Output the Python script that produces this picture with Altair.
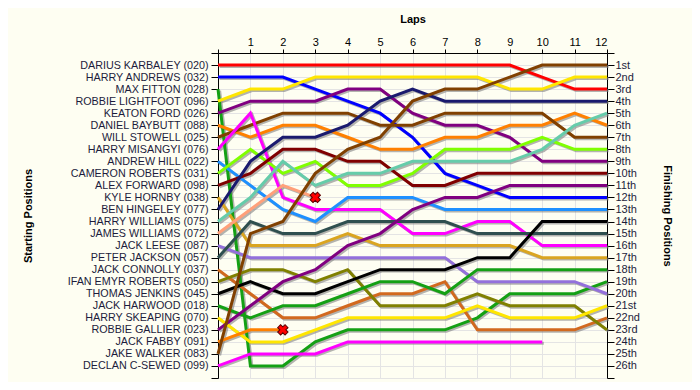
import altair as alt
import pandas as pd

laps = list(range(13))

drivers = [
    "DARIUS KARBALEY (020)", "HARRY ANDREWS (032)", "MAX FITTON (028)",
    "ROBBIE LIGHTFOOT (096)", "KEATON FORD (026)", "DANIEL BAYBUTT (088)",
    "WILL STOWELL (025)", "HARRY MISANGYI (076)", "ANDREW HILL (022)",
    "CAMERON ROBERTS (031)", "ALEX FORWARD (098)", "KYLE HORNBY (038)",
    "BEN HINGELEY (077)", "HARRY WILLIAMS (075)", "JAMES WILLIAMS (072)",
    "JACK LEESE (087)", "PETER JACKSON (057)", "JACK CONNOLLY (037)",
    "IFAN EMYR ROBERTS (050)", "THOMAS JENKINS (045)", "JACK HARWOOD (018)",
    "HARRY SKEAPING (070)", "ROBBIE GALLIER (023)", "JACK FABBY (091)",
    "JAKE WALKER (083)", "DECLAN C-SEWED (099)",
]

colors = [
    "#ff0000", "#0000ff", "#14a014", "#ffe600", "#800080", "#ff8000",
    "#804000", "#ff00ff", "#1e90ff", "#80ff00", "#800000", "#daa520",
    "#1a1a6e", "#66ccaa", "#ffa07a", "#9370db", "#2f4f4f", "#d2691e",
    "#808000", "#000000", "#14a014", "#ffe600", "#800080", "#ff8000",
    "#804000", "#ff00ff",
]

finish_labels = [
    "1st", "2nd", "3rd", "4th", "5th", "6th", "7th", "8th", "9th", "10th",
    "11th", "12th", "13th", "14th", "15th", "16th", "17th", "18th", "19th",
    "20th", "21st", "22nd", "23rd", "24th", "25th", "26th",
]

# position of each driver after each lap (lap 0 = grid)
p020 = [1, 1, 1, 1, 1, 1, 1, 1, 1, 1, 2, 3, 3]
p032 = [2, 2, 2, 3, 4, 5, 7, 10, 11, 12, 12, 12, 12]
p028 = [3, 26, 26, 24, 23, 23, 23, 23, 22, 20, 20, 20, 19]
p096 = [4, 3, 3, 2, 2, 2, 2, 2, 2, 3, 3, 2, 2]
p026 = [5, 4, 4, 4, 3, 3, 5, 6, 6, 7, 9, 9, 9]
p088 = [6, 7, 6, 6, 7, 8, 8, 7, 7, 6, 6, 5, 6]
p025 = [7, 6, 5, 5, 5, 6, 6, 5, 5, 5, 5, 7, 7]
p076 = [8, 5, 12, 13, 13, 13, 15, 15, 14, 14, 16, 16, 16]
p022 = [9, 11, 13, 14, 12, 12, 12, 13, 13, 13, 13, 13, 13]
p031 = [10, 8, 10, 9, 11, 11, 10, 8, 8, 8, 7, 8, 8]
p098 = [11, 10, 8, 8, 9, 9, 11, 11, 10, 10, 10, 10, 10]
p038 = [12, 16, 16, 16, 15, 16, 16, 16, 16, 16, 17, 17, 17]
p077 = [13, 9, 7, 7, 6, 4, 3, 4, 4, 4, 4, 4, 4]
p075 = [14, 12, 9, 11, 10, 10, 9, 9, 9, 9, 8, 6, 5]
p072 = [15, 13, 11, 12]
p087 = [16, 17, 17, 17, 17, 17, 17, 17, 19, 19, 19, 19, 20]
p057 = [17, 14, 15, 15, 14, 14, 14, 14, 15, 15, 15, 15, 15]
p037 = [18, 20, 22, 22, 21, 20, 20, 19, 23, 23, 23, 23, 22]
p050 = [19, 18, 18, 19, 18, 21, 21, 21, 20, 21, 21, 21, 23]
p045 = [20, 19, 20, 20, 19, 18, 18, 18, 17, 17, 14, 14, 14]
p018 = [21, 22, 21, 21, 20, 19, 19, 20, 18, 18, 18, 18, 18]
p070 = [22, 24, 24, 23, 22, 22, 22, 22, 21, 22, 22, 22, 21]
p023 = [23, 21, 19, 18, 16, 15, 13, 12, 12, 11, 11, 11, 11]
p091 = [24, 23, 23]
p083 = [25, 15, 14, 10, 8, 7, 4, 3, 3, 2, 1, 1, 1]
p099 = [26, 25, 25, 25, 24, 24, 24, 24, 24, 24, 24]

series = [p020, p032, p028, p096, p026, p088, p025, p076, p022, p031, p098,
          p038, p077, p075, p072, p087, p057, p037, p050, p045, p018, p070,
          p023, p091, p083, p099]

retired = ["JAMES WILLIAMS (072)", "JACK FABBY (091)"]

rows = []
for order, (name, ps) in enumerate(zip(drivers, series)):
    for lap, pos in zip(laps, ps):
        rows.append({"driver": name, "lap": lap, "pos": pos, "order": order})
df = pd.DataFrame(rows)

last = df.sort_values("lap").groupby("driver").tail(1)
marks_df = last[last["driver"].isin(retired)]

FONT = "Liberation Sans"
left_expr = "[''," + ",".join("'%s'" % d for d in drivers) + "][datum.value] || ''"
right_expr = "[''," + ",".join("'%s'" % f for f in finish_labels) + "][datum.value] || ''"

xscale = alt.Scale(domain=[0, 12], nice=False, zero=False)
yscale = alt.Scale(domain=[0, 27], nice=False, zero=False, reverse=True)
color = alt.Color("driver:N", scale=alt.Scale(domain=drivers, range=colors), legend=None)
yvals = list(range(0, 28))

x_axis = alt.Axis(
    orient="top", values=laps, grid=True, gridColor="#e4e4e4",
    labelExpr="datum.value == 0 ? '' : datum.value",
    tickSize=4, labelPadding=2, labelFontSize=11, labelFont=FONT,
    labelColor="#000000", domainColor="#000000", tickColor="#000000",
    title="Laps", titleX=194.5, titleY=-34, titleAlign="center",
    titleBaseline="middle", titleFontSize=11, titleFont=FONT,
    titleFontWeight="bold", titleColor="#000000")

base = alt.Chart(df)

shadow = base.transform_calculate(
    lx="datum.lap + 0.05", py="datum.pos + 0.12"
).mark_line(strokeWidth=3, color="#808080", opacity=0.6).encode(
    x=alt.X("lx:Q", scale=xscale, axis=x_axis),
    y=alt.Y("py:Q", scale=yscale, axis=None),
    detail="driver:N",
    order="lap:Q",
)

lines = base.mark_line(strokeWidth=3).encode(
    x=alt.X("lap:Q", scale=xscale, axis=x_axis),
    y=alt.Y("pos:Q", scale=yscale, axis=alt.Axis(
        orient="left", values=yvals, grid=True, gridColor="#e4e4e4",
        labelExpr=left_expr, tickSize=7, labelPadding=3,
        labelFontSize=10.75, labelFont=FONT, labelColor="#1c1c3c",
        domainColor="#000000", tickColor="#000000", labelOverlap=False,
        title="Starting Positions", titleX=-190, titleY=162.5,
        titleAngle=270, titleAlign="center", titleBaseline="middle",
        titleFontSize=11, titleFont=FONT, titleFontWeight="bold",
        titleColor="#000000")),
    color=color,
    detail="driver:N",
    order="lap:Q",
)

xmarks = alt.Chart(marks_df).mark_point(
    shape="cross", angle=45, filled=True, size=110, fill="#ff0000",
    stroke="#5a0000", strokeWidth=1, opacity=1,
).encode(
    x=alt.X("lap:Q", scale=xscale, axis=x_axis),
    y=alt.Y("pos:Q", scale=yscale, axis=alt.Axis(
        orient="right", values=yvals, grid=False,
        labelExpr=right_expr, tickSize=7, labelPadding=1,
        labelFontSize=11, labelFont=FONT, labelColor="#1c1c3c",
        domainColor="#000000", tickColor="#000000", labelOverlap=False,
        title="Finishing Positions", titleX=59, titleY=162.5,
        titleAngle=90, titleAlign="center", titleBaseline="middle",
        titleFontSize=11, titleFont=FONT, titleFontWeight="bold",
        titleColor="#000000")),
)

chart = alt.layer(shadow, lines, xmarks).resolve_axis(y="independent").properties(
    width=389, height=325,
    autosize=alt.AutoSizeParams(type="none"),
    padding={"left": 210, "top": 45, "right": 85, "bottom": 4},
    background="#fefef2",
).configure_view(stroke=None)

chart.save("out.html", embed_options={"renderer": "svg", "actions": False})
